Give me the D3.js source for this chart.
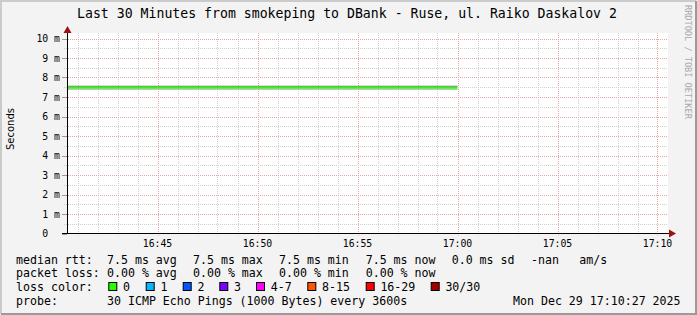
<!DOCTYPE html>
<html lang="en">
<head>
<meta charset="UTF-8">
<title>smokeping</title>
<script src="https://cdn.jsdelivr.net/npm/d3@7"></script>
<style>
	body { margin: 0; background: #fff; }
	svg text { font-family: "DejaVu Sans Mono", monospace; fill: #000; white-space: pre; }
	.tick-label { font-size: 9.8px; }
	.legend { font-size: 11.6px; }
</style>
</head>
<body>
<script>

// data
var times = ['16:40', '16:45', '16:50', '16:55', '17:00'];
var medianMs = [7.5, 7.5, 7.5, 7.5, 7.5];
var yTicks = [0, 1, 2, 3, 4, 5, 6, 7, 8, 9, 10];
var xTicks = ['16:45', '16:50', '16:55', '17:00', '17:05', '17:10'];
var lossLabels = ['0', '1', '2', '3', '4-7', '8-15', '16-29', '30/30'];
var lossColors = ['#26ff00', '#00b8ff', '#0059ff', '#7e00ff', '#ff00ff', '#ff5500', '#ff0000', '#a10000'];

var W = 697, H = 315;
var plot = {left: 67, right: 668, top: 33, bottom: 233.5};

var parse = d3.timeParse('%H:%M:%S');
var tStart = parse('16:40:27'), tEnd = parse('17:10:27');

var x = d3.scaleTime().domain([tStart, tEnd]).range([66.5, 666.5]);
var y = d3.scaleLinear().domain([0, 10]).range([plot.bottom, 38.5]);

var svg = d3.select('body').append('svg')
	.attr('width', W).attr('height', H);

// background + 3d frame
svg.append('rect').attr('width', W).attr('height', H).attr('fill', '#f3f3f3');
svg.append('path').attr('d', 'M1,' + (H - 1) + 'V1H' + (W - 1))
	.attr('fill', 'none').attr('stroke', '#cbcbcb').attr('stroke-width', 2);
svg.append('path').attr('d', 'M1,' + (H - 1) + 'H' + (W - 1) + 'V1')
	.attr('fill', 'none').attr('stroke', '#9a9a9a').attr('stroke-width', 2);

svg.append('rect')
	.attr('x', plot.left).attr('y', plot.top)
	.attr('width', plot.right - plot.left).attr('height', plot.bottom - plot.top)
	.attr('fill', '#fff');

// grid
var minor = d3.timeMinute.range(d3.timeMinute.ceil(tStart), tEnd);
var grid = svg.append('g');
grid.selectAll('.vmin').data(minor).enter().append('line')
	.attr('x1', function(d) { return Math.round(x(d)) + 0.5; })
	.attr('x2', function(d) { return Math.round(x(d)) + 0.5; })
	.attr('y1', plot.top).attr('y2', plot.bottom + 2)
	.attr('stroke', function(d) { return d.getMinutes() % 5 === 0 ? '#e4a8a8' : '#d0d0d0'; })
	.attr('stroke-dasharray', '1,1');

var hLines = d3.range(1, 21).map(function(d) { return d / 2; });
grid.selectAll('.h').data(hLines).enter().append('line')
	.attr('x1', function(d) { return d % 1 === 0 ? 62 : 64; })
	.attr('x2', plot.right)
	.attr('y1', function(d) { return Math.round(y(d)) + 0.5; })
	.attr('y2', function(d) { return Math.round(y(d)) + 0.5; })
	.attr('stroke', function(d) { return d % 1 === 0 ? '#e4a8a8' : '#d0d0d0'; })
	.attr('stroke-dasharray', '1,1');

// y tick marks
svg.selectAll('.yt').data(yTicks).enter().append('line')
	.attr('x1', 62).attr('x2', 67)
	.attr('y1', function(d) { return Math.round(y(d)) + 0.5; })
	.attr('y2', function(d) { return Math.round(y(d)) + 0.5; })
	.attr('stroke', '#999');

// series
svg.append('clipPath').attr('id', 'clip').append('rect')
	.attr('x', plot.left).attr('y', plot.top)
	.attr('width', plot.right - plot.left).attr('height', plot.bottom - plot.top);

var pts = times.map(function(t, i) { return {t: parse(t + ':00'), v: medianMs[i]}; });
var series = svg.append('g').attr('clip-path', 'url(#clip)');
function mk(off) {
	return d3.line()
		.x(function(d) { return x(d.t); })
		.y(function(d) { return y(d.v) + off; })
		.curve(d3.curveStepAfter);
}
series.append('path').datum(pts).attr('d', mk(-1)).attr('fill', 'none')
	.attr('stroke', '#6f6f6f').attr('stroke-width', 1);
series.append('path').datum(pts).attr('d', mk(2)).attr('fill', 'none')
	.attr('stroke', '#b0b0b0').attr('stroke-width', 1);
series.append('path').datum(pts).attr('d', mk(0.5)).attr('fill', 'none')
	.attr('stroke', '#26ff00').attr('stroke-width', 2);

// axes
svg.append('line').attr('x1', 67.5).attr('x2', 67.5).attr('y1', plot.bottom).attr('y2', 30)
	.attr('stroke', '#000');
svg.append('path').attr('d', 'M63.5,33L67.5,26L71.5,33Z').attr('fill', '#a01010');
svg.append('line').attr('x1', 62).attr('x2', 672).attr('y1', 233.5).attr('y2', 233.5)
	.attr('stroke', '#000');
svg.append('path').attr('d', 'M669,229.5L676,233.5L669,237.5Z').attr('fill', '#a01010');

// tick labels
svg.selectAll('.yl').data(yTicks).enter().append('text')
	.attr('class', 'tick-label')
	.attr('x', 60).attr('y', function(d) { return y(d) + 3.5; })
	.attr('text-anchor', 'end')
	.text(function(d) { return d === 0 ? '0  ' : d + ' m'; });

svg.selectAll('.xl').data(xTicks).enter().append('text')
	.attr('class', 'tick-label')
	.attr('x', function(d) { return x(parse(d + ':00')); })
	.attr('y', 246.5)
	.attr('text-anchor', 'middle')
	.text(function(d) { return d; });

// titles
svg.append('text').attr('x', 347).attr('y', 17.5).attr('text-anchor', 'middle')
	.style('font-size', '13.2px')
	.text('Last 30 Minutes from smokeping to DBank - Ruse, ul. Raiko Daskalov 2');

svg.append('text').attr('transform', 'translate(14,129) rotate(-90)')
	.attr('text-anchor', 'middle')
	.style('font-family', '"DejaVu Sans", sans-serif').style('font-size', '10px')
	.text('Seconds');

svg.append('text').attr('transform', 'translate(685,5) rotate(90)')
	.style('font-size', '8.6px').style('fill', '#aaa')
	.text('RRDTOOL / TOBI OETIKER');

// legend
var rows = [
	[[16, 'median rtt:'], [107, '7.5 ms avg'], [193, '7.5 ms max'], [279, '7.5 ms min'],
	 [365.7, '7.5 ms now'], [451.7, '0.0 ms sd'], [531, '-nan'], [579.3, 'am/s']],
	[[16, 'packet loss:'], [107, '0.00 % avg'], [193, '0.00 % max'], [279, '0.00 % min'],
	 [365.7, '0.00 % now']],
	[[16, 'loss color:']],
	[[16, 'probe:'], [107, '30 ICMP Echo Pings (1000 Bytes) every 3600s'], [513, 'Mon Dec 29 17:10:27 2025']]
];
var rowY = [263.5, 277.3, 291, 304.8];
rows.forEach(function(r, i) {
	svg.selectAll(null).data(r).enter().append('text')
		.attr('class', 'legend')
		.attr('x', function(d) { return d[0]; })
		.attr('y', rowY[i])
		.text(function(d) { return d[1]; });
});

var boxX = [108.3, 145.7, 182.7, 219.3, 256, 307.3, 365.7, 430.7];
var lg = svg.selectAll('.lc').data(lossLabels).enter().append('g')
	.attr('transform', function(d, i) { return 'translate(' + boxX[i] + ',282)'; });
lg.append('rect').attr('x', 0.5).attr('y', 0.5).attr('width', 8).attr('height', 8)
	.attr('fill', function(d, i) { return lossColors[i]; })
	.attr('stroke', '#000');
lg.append('text').attr('class', 'legend').attr('x', 14.7).attr('y', rowY[2] - 282)
	.text(function(d) { return d; });

</script>
</body>
</html>
